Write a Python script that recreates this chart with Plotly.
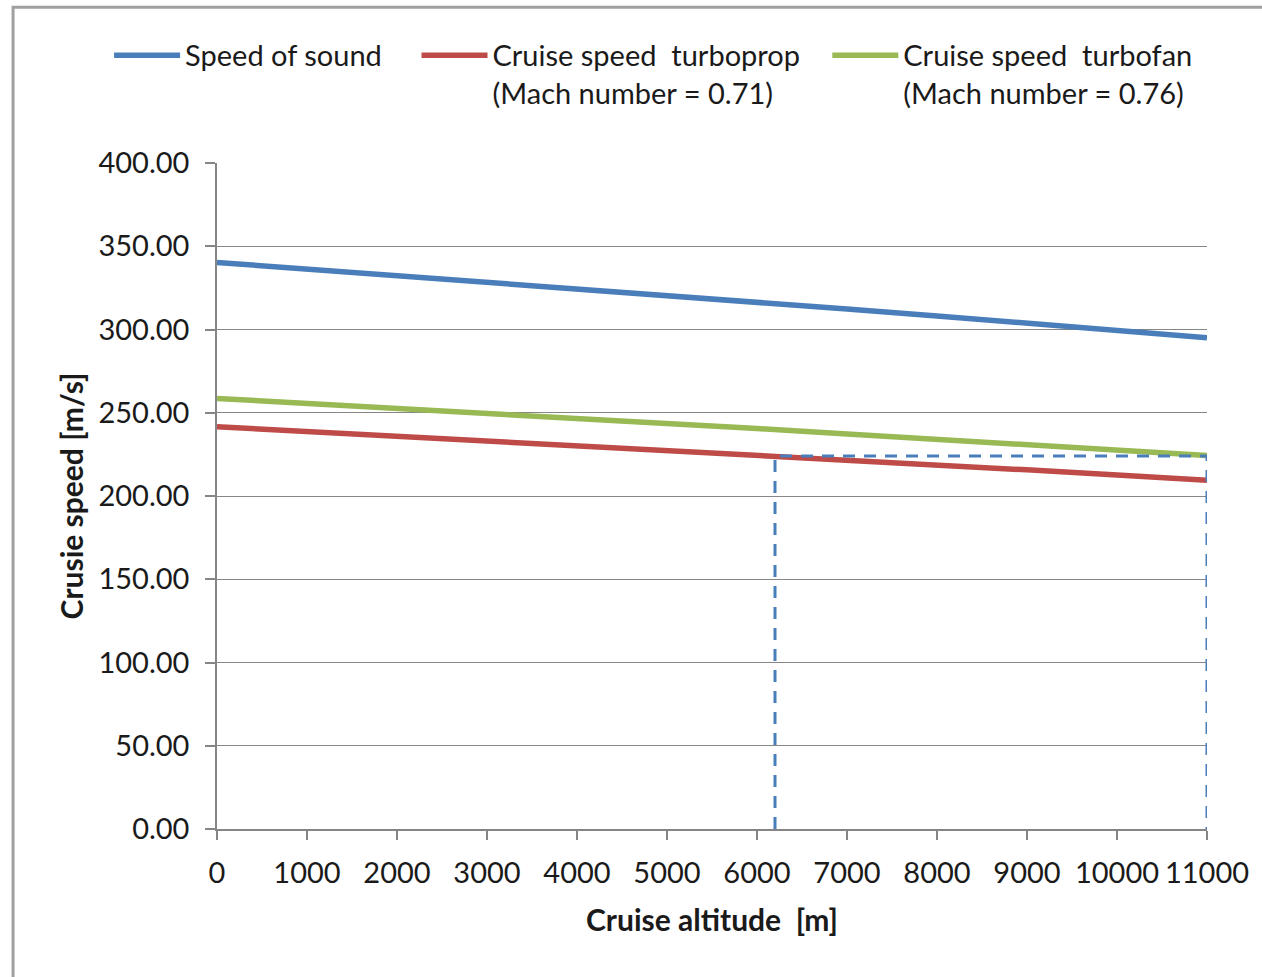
import plotly.graph_objects as go

altitude = [0, 1000, 2000, 3000, 4000, 5000, 6000, 7000, 8000, 9000, 10000, 11000]
speed_of_sound = [340.3, 336.4, 332.5, 328.6, 324.6, 320.5, 316.5, 312.3, 308.1, 303.8, 299.5, 295.1]
turboprop = [241.6, 238.8, 236.1, 233.3, 230.5, 227.6, 224.7, 221.7, 218.8, 215.7, 212.6, 209.5]
turbofan = [258.6, 255.7, 252.7, 249.7, 246.7, 243.6, 240.5, 237.3, 234.2, 230.9, 227.6, 224.3]
guide_x = [6200, 6200, 11000, 11000]
guide_y = [0, 224, 224, 0]
y_ticks = [0, 50, 100, 150, 200, 250, 300, 350, 400]

FONT = "Lato"
fig = go.Figure()
fig.add_trace(go.Scatter(x=altitude, y=speed_of_sound, mode="lines",
                         name="Speed of sound" + "&nbsp;" * 4,
                         line=dict(color="#4A7EBB", width=5.5)))
fig.add_trace(go.Scatter(x=altitude, y=turboprop, mode="lines",
                         name="Cruise speed  turboprop" + "&nbsp;" * 3 + "<br>(Mach number = 0.71)",
                         line=dict(color="#BE4B48", width=5.5)))
fig.add_trace(go.Scatter(x=altitude, y=turbofan, mode="lines",
                         name="Cruise speed  turbofan<br>(Mach number = 0.76)",
                         line=dict(color="#98B954", width=5.5)))
fig.add_trace(go.Scatter(x=guide_x, y=guide_y, mode="lines", showlegend=False,
                         line=dict(color="#4A7EBB", width=3, dash="12px,9px")))

fig.update_layout(
    width=1262, height=977,
    margin=dict(l=217, r=55, t=163, b=148),
    paper_bgcolor="white", plot_bgcolor="white",
    font=dict(family=FONT, size=29, color="#1a1a1a"),
    legend=dict(orientation="h", x=-0.109, y=1.20, xanchor="left", yanchor="top",
                valign="top", itemwidth=66, font=dict(size=29, family=FONT),
                tracegroupgap=0, traceorder="normal"),
    xaxis=dict(range=[0, 11000], tickvals=altitude, ticktext=[str(a) for a in altitude],
               showgrid=False, showline=True, linecolor="#868686", linewidth=1.5,
               ticks="outside", ticklen=9, tickcolor="#868686", tickwidth=1.5,
               tickfont=dict(size=29), zeroline=False, ticklabelstandoff=8,
               title=dict(text="<b>Cruise altitude  [m]</b>", font=dict(size=30), standoff=22)),
    yaxis=dict(range=[0, 400], tickvals=y_ticks, tickformat=".2f",
               showgrid=True, gridcolor="#868686", gridwidth=1.2,
               showline=True, linecolor="#868686", linewidth=1.5,
               ticks="outside", ticklen=10, tickcolor="#868686", tickwidth=1.5,
               tickfont=dict(size=29), zeroline=False, ticklabelstandoff=10,
               title=dict(text="<b>Crusie speed [m/s]</b>", font=dict(size=30), standoff=6)),
)

fig.add_shape(type="rect", xref="paper", yref="paper",
              x0=-0.206, x1=1.07, y0=-0.24, y1=1.234,
              line=dict(color="#A0A0A0", width=3), layer="below")

fig.write_html("out.html", config={"displayModeBar": False},
               post_script="document.body.style.margin='0';")
